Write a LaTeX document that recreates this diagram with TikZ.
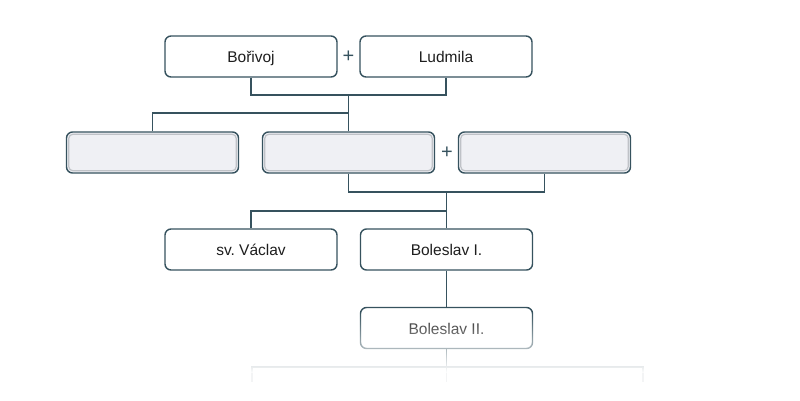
\documentclass[tikz,border=0pt]{standalone}
\usepackage{fontspec}
\setmainfont{Liberation Sans}
\frenchspacing
\usetikzlibrary{fadings}
\definecolor{edge}{HTML}{36525E}
\definecolor{txt}{HTML}{1E1E1E}
\definecolor{boxfill}{HTML}{EFF0F4}
\definecolor{inner}{HTML}{BFC2C7}
\tikzfading[name=fadedown, top color=transparent!100, bottom color=transparent!0]
\tikzset{
  person/.style={draw=edge, line width=1.4pt, fill=white, rounded corners=6pt,
    minimum width=172pt, minimum height=41pt, inner sep=0pt,
    text height=12pt, text depth=0pt,
    font=\fontsize{15.5pt}{18pt}\selectfont, text=txt},
  empty/.style={person, fill=boxfill},
  link/.style={draw=edge, line width=1.4pt},
  plus/.style={text=edge, font=\fontsize{20pt}{20pt}\selectfont, inner sep=0pt},
  innerline/.style={draw=inner, line width=1.2pt, rounded corners=4pt}
}
\begin{document}
\begin{tikzpicture}[x=1pt,y=-1pt]
\useasboundingbox (0,0) rectangle (800,400);
% row 1
\node[person] (borivoj) at (251,56.5) {Bořivoj};
\node[person] (ludmila) at (446,56.5) {Ludmila};
\node[plus] (p1) at (348.5,56.5) {+};
% row 2
\node[empty] (a1) at (152.5,152.5) {};
\node[empty] (a2) at (348.5,152.5) {};
\node[empty] (a3) at (544.5,152.5) {};
\node[plus] (p2) at (447,152.5) {+};
\foreach \n in {a1,a2,a3}{
  \draw[innerline] ([xshift=3pt,yshift=-3pt]\n.north west) rectangle ([xshift=-3pt,yshift=3pt]\n.south east);
}
% row 3
\node[person] (vaclav) at (251,249.5) {sv. Václav};
\node[person] (bol1) at (446.5,249.5) {Boleslav I.};
% row 4
\node[person] (bol2) at (446.5,328) {Boleslav II.};
% junctions
\coordinate (j1) at (348.5,95);
\coordinate (j2) at (348.5,113);
\coordinate (j3) at (446.5,192);
\coordinate (j4) at (446.5,211);
\coordinate (j5) at (446.5,367);
\coordinate (l5) at (252,367);
\coordinate (r5) at (643,367);
\coordinate (e1) at (252,400);
\coordinate (e2) at (446.5,400);
\coordinate (e3) at (643,400);
% connectors
\draw[link] (borivoj.south) |- (j1) -| (ludmila.south);
\draw[link] (j1) -- (a2.north);
\draw[link] (a1.north) |- (j2);
\draw[link] (a2.south) |- (j3) -| (a3.south);
\draw[link] (j3) -- (bol1.north);
\draw[link] (vaclav.north) |- (j4);
\draw[link] (bol1.south) -- (bol2.north);
\draw[link] (bol2.south) -- (j5) -- (e2);
\draw[link] (e1) -- (l5) -- (r5) -- (e3);
% fade-out overlay
\fill[white, path fading=fadedown] (230,312) rectangle (660,373);
\fill[white, opacity=0.94] (230,373) rectangle (660,382);
\fill[white] (230,382) rectangle (660,400);
\end{tikzpicture}
\end{document}
